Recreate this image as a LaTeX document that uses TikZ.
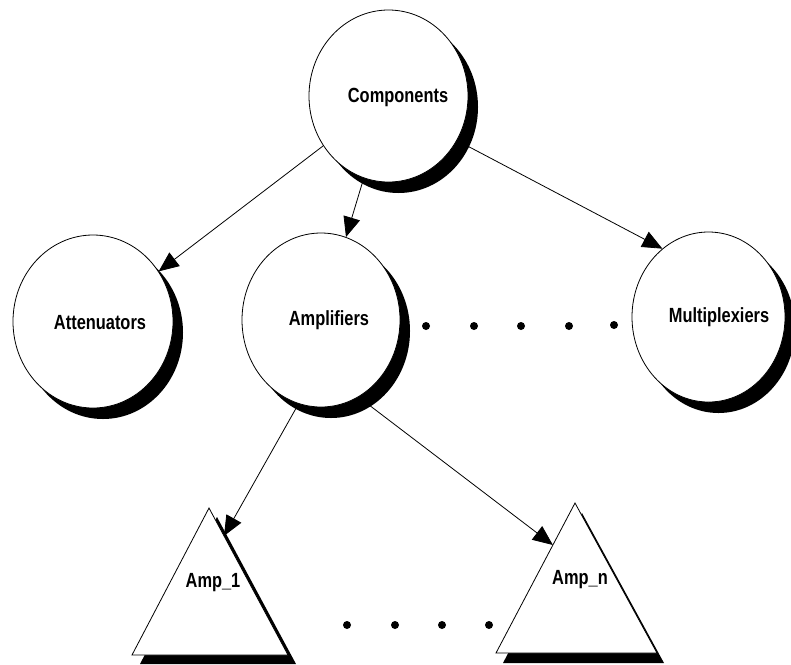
\documentclass[tikz,border=0pt]{standalone}
\usepackage{fontspec}
\newfontfamily\lblfont{Liberation Sans Bold}[FakeStretch=0.8]
\usetikzlibrary{shapes.geometric,shadows,arrows.meta,calc}
\begin{document}
\begin{tikzpicture}[x=1pt,y=-1pt,
  cnode/.style={ellipse, draw=black, line width=0.8pt, fill=white, inner sep=0pt,
    drop shadow={shadow xshift=10pt, shadow yshift=-11pt, fill=black, opacity=1}},
  lbl/.style={font=\lblfont\fontsize{20.5}{23}\selectfont, inner sep=0pt},
  conn/.style={line width=0.8pt, -{Triangle[length=20pt,width=17pt]}},
  dot/.style={circle, fill=black, inner sep=0pt, minimum size=8pt},
  tri/.style={draw=black, line width=0.8pt, fill=white, line join=miter},
  trishadow/.style={fill=black}]
\useasboundingbox (0,0) rectangle (791,664);

% circles
\node[cnode, minimum width=159pt, minimum height=172pt] (comp) at (388.5,96) {};
\node[cnode, minimum width=160pt, minimum height=173pt] (att) at (93,321.5) {};
\node[cnode, minimum width=158pt, minimum height=174pt] (amp) at (321,320) {};
\node[cnode, minimum width=153pt, minimum height=170pt] (mux) at (708.5,317) {};

\node[lbl] (compl) at (398,97) {Components};
\node[lbl] (attl) at (100,323) {Attenuators};
\node[lbl] (ampl) at (329,320) {Amplifiers};
\node[lbl] (muxl) at (719,317) {Multiplexiers};

% triangles
\coordinate (a1t) at (209,508);
\coordinate (a1l) at (132,655);
\coordinate (a1r) at (288,655);
\coordinate (ant) at (575,503);
\coordinate (anl) at (496,653);
\coordinate (anr) at (657,653);
\fill[trishadow] ([shift={(8,9)}]a1t) -- ([shift={(8,9)}]a1l) -- ([shift={(8,9)}]a1r) -- cycle;
\draw[tri] (a1t) -- (a1l) -- (a1r) -- cycle;
\fill[trishadow] ([shift={(7,10)}]ant) -- ([shift={(7,10)}]anl) -- ([shift={(7,10)}]anr) -- cycle;
\draw[tri] (ant) -- (anl) -- (anr) -- cycle;
\node[lbl] (a1lbl) at (213,583) {Amp\_1};
\node[lbl] (anlbl) at (580,580) {Amp\_n};
\coordinate (a1in) at ($(a1t)!0.19!(a1r)$);
\coordinate (anin) at ($(ant)!0.28!(anl)$);

% connectors
\draw[conn] (comp) -- (att);
\draw[conn] (comp) -- (amp);
\draw[conn] (comp.-33) -- (mux.124);
\draw[conn] (amp.-105) -- (a1in);
\draw[conn] (amp.-64) -- (anin);

% dots
\node[dot] (d1) at (426,326) {};
\node[dot] (d2) at (474,326) {};
\node[dot] (d3) at (521,326) {};
\node[dot] (d4) at (569,326) {};
\node[dot] (d5) at (614,325) {};
\node[dot] (e1) at (347,625) {};
\node[dot] (e2) at (395,625) {};
\node[dot] (e3) at (442,625) {};
\node[dot] (e4) at (489,625) {};
\end{tikzpicture}
\end{document}
